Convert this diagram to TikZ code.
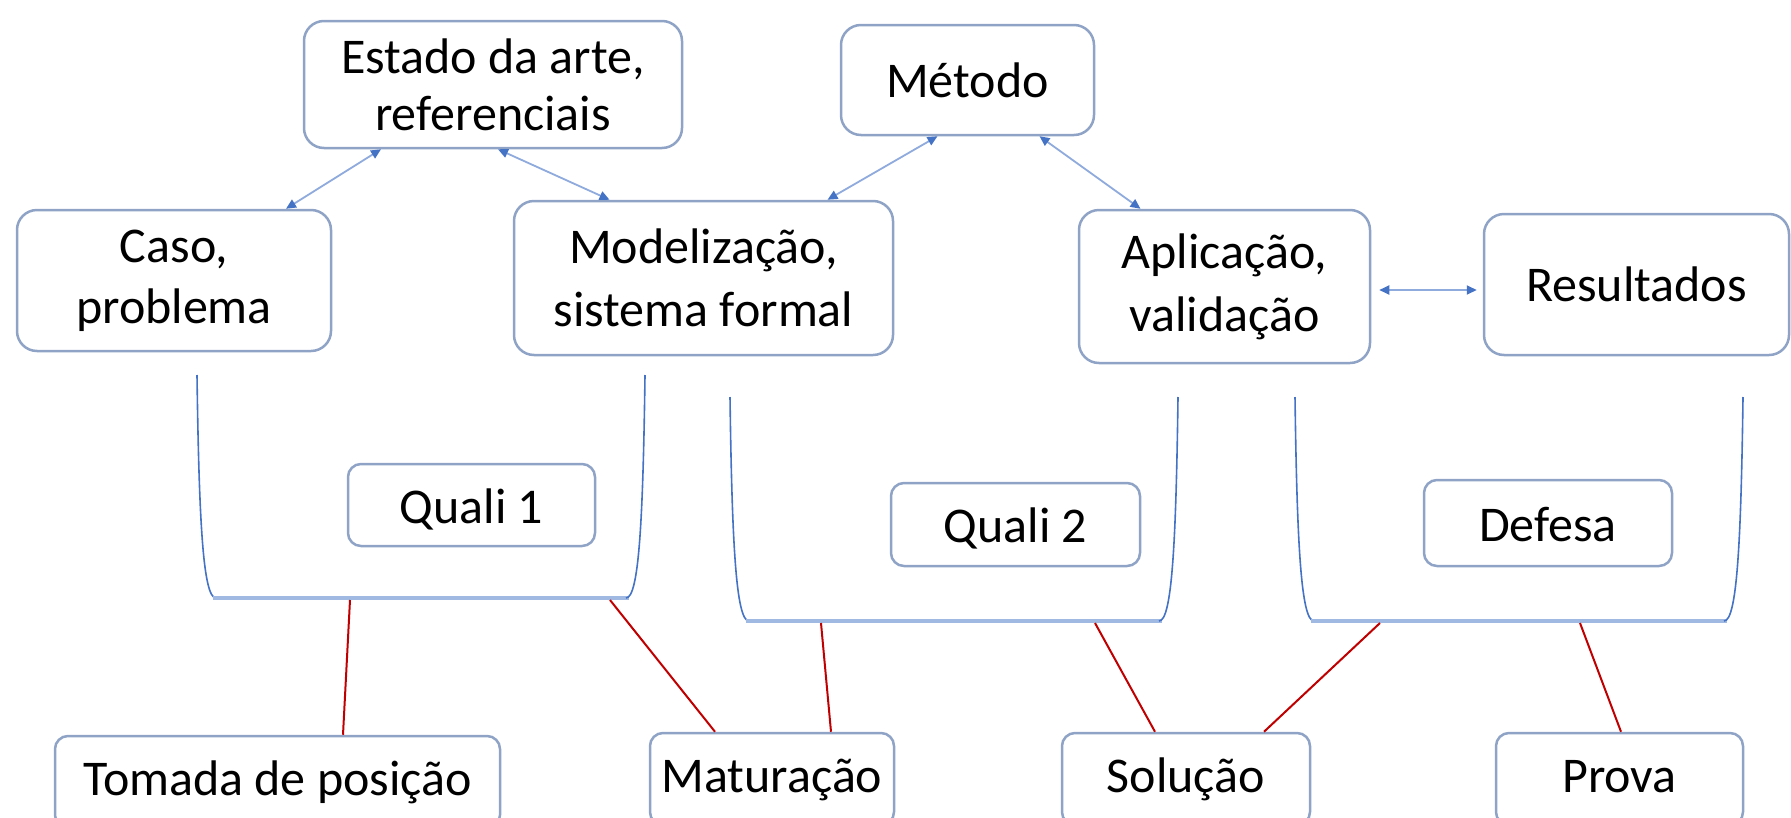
\documentclass[tikz,border=0pt]{standalone}
\usepackage{fontspec}
\setmainfont{Carlito}
\usetikzlibrary{arrows.meta,calc}
\definecolor{boxc}{RGB}{143,163,198}
\definecolor{arrline}{RGB}{143,170,220}
\definecolor{arrhead}{RGB}{68,114,196}
\definecolor{brside}{RGB}{68,114,196}
\definecolor{brbot}{RGB}{160,185,226}
\definecolor{redc}{RGB}{192,0,0}
\newcommand\mybracket[4]{%
  \draw[brs] (#1,#3) .. controls (#1+2,#4-78) and (#1+6,#4) .. (#1+19,#4);
  \draw[brb] (#1+16,#4) -- (#2-16,#4);
  \draw[brs] (#2,#3) .. controls (#2-2,#4-78) and (#2-6,#4) .. (#2-19,#4);
}
\begin{document}
\begin{tikzpicture}[x=1pt,y=-1pt,
  box/.style={draw=boxc,line width=2.5pt,rounded corners=20pt,align=center,inner sep=0pt,
    font=\fontsize{50}{58}\selectfont,text=black},
  lsp/.style={font=\fontsize{50}{#1}\selectfont},
  sbox/.style={box,rounded corners=13pt},
  qbox/.style={sbox,text height=36pt,text depth=0pt},
  bbox/.style={sbox,text height=36pt,text depth=10pt},
  brs/.style={draw=brside,line width=1.6pt},
  brb/.style={draw=brbot,line width=4pt},
  redl/.style={draw=redc,line width=2pt},
  biarrow/.style={draw=arrline,line width=1.8pt,
    arrows={Triangle[length=10pt,width=9pt,color=arrhead]-Triangle[length=10pt,width=9pt,color=arrhead]}}
]
\useasboundingbox (0,0) rectangle (1791,817);
\clip (0,0) rectangle (1791,817);

% top nodes
\node[box,lsp=57,minimum width=378pt,minimum height=127pt] (est) at (493,84.5) {Estado da arte,\\referenciais};
\node[box,minimum width=253pt,minimum height=110pt] (met) at (967.5,80) {Método};
\node[box,lsp=61,minimum width=314pt,minimum height=141pt] (caso) at (174,280.5) {Caso,\\problema};
\node[box,lsp=63,minimum width=379pt,minimum height=154pt] (mod) at (703.5,278) {Modelização,\\sistema formal};
\node[box,lsp=63,minimum width=291pt,minimum height=153pt] (apl) at (1224.5,286.5) {Aplicação,\\validação};
\node[box,minimum width=305pt,minimum height=141pt] (res) at (1636.5,284.5) {Resultados};

% arrows
\draw[biarrow] ($(caso.north)+(112,0)$) -- ($(est.south)+(-112,0)$);
\draw[biarrow] ($(est.south)+(5,0)$) -- ($(mod.north)+(-94,0)$);
\draw[biarrow] ($(met.south)+(-30,0)$) -- ($(mod.north)+(124,0)$);
\draw[biarrow] ($(met.south)+(72,0)$) -- ($(apl.north)+(-84,0)$);
\draw[biarrow] ($(apl.east)+(8,3.5)$) -- ($(res.west)+(-6,5.5)$);

% brackets
\mybracket{197}{645}{375}{598}
\mybracket{730}{1178}{397}{621}
\mybracket{1295}{1743}{397}{621}

% milestone nodes
\node[qbox,minimum width=247pt,minimum height=82pt] (q1) at (471.5,505) {Quali 1};
\node[qbox,minimum width=249pt,minimum height=83pt] (q2) at (1015.5,524.5) {Quali 2};
\node[qbox,minimum width=248pt,minimum height=86pt] (def) at (1548,523) {Defesa};

% bottom nodes
\node[bbox,minimum width=445pt,minimum height=92pt] (tom) at (277.5,782) {Tomada de posição};
\node[bbox,minimum width=244pt,minimum height=92pt] (mat) at (772,779) {Maturação};
\node[bbox,minimum width=248pt,minimum height=92pt] (sol) at (1186,779) {Solução};
\node[bbox,minimum width=247pt,minimum height=92pt] (pro) at (1619.5,779) {Prova};

% red connectors
\coordinate (b1a) at (350,600);
\coordinate (b1b) at (610,600);
\coordinate (b2a) at (821,623);
\coordinate (b2b) at (1095,623);
\coordinate (b3a) at (1380,623);
\coordinate (b3b) at (1580,623);
\draw[redl] (b1a) -- ($(tom.north)+(65.5,0)$);
\draw[redl] (b1b) -- ($(mat.north)+(-57,0)$);
\draw[redl] (b2a) -- ($(mat.north)+(59,0)$);
\draw[redl] (b2b) -- ($(sol.north)+(-31,0)$);
\draw[redl] (b3a) -- ($(sol.north)+(78,0)$);
\draw[redl] (b3b) -- ($(pro.north)+(1.5,0)$);
\end{tikzpicture}
\end{document}
